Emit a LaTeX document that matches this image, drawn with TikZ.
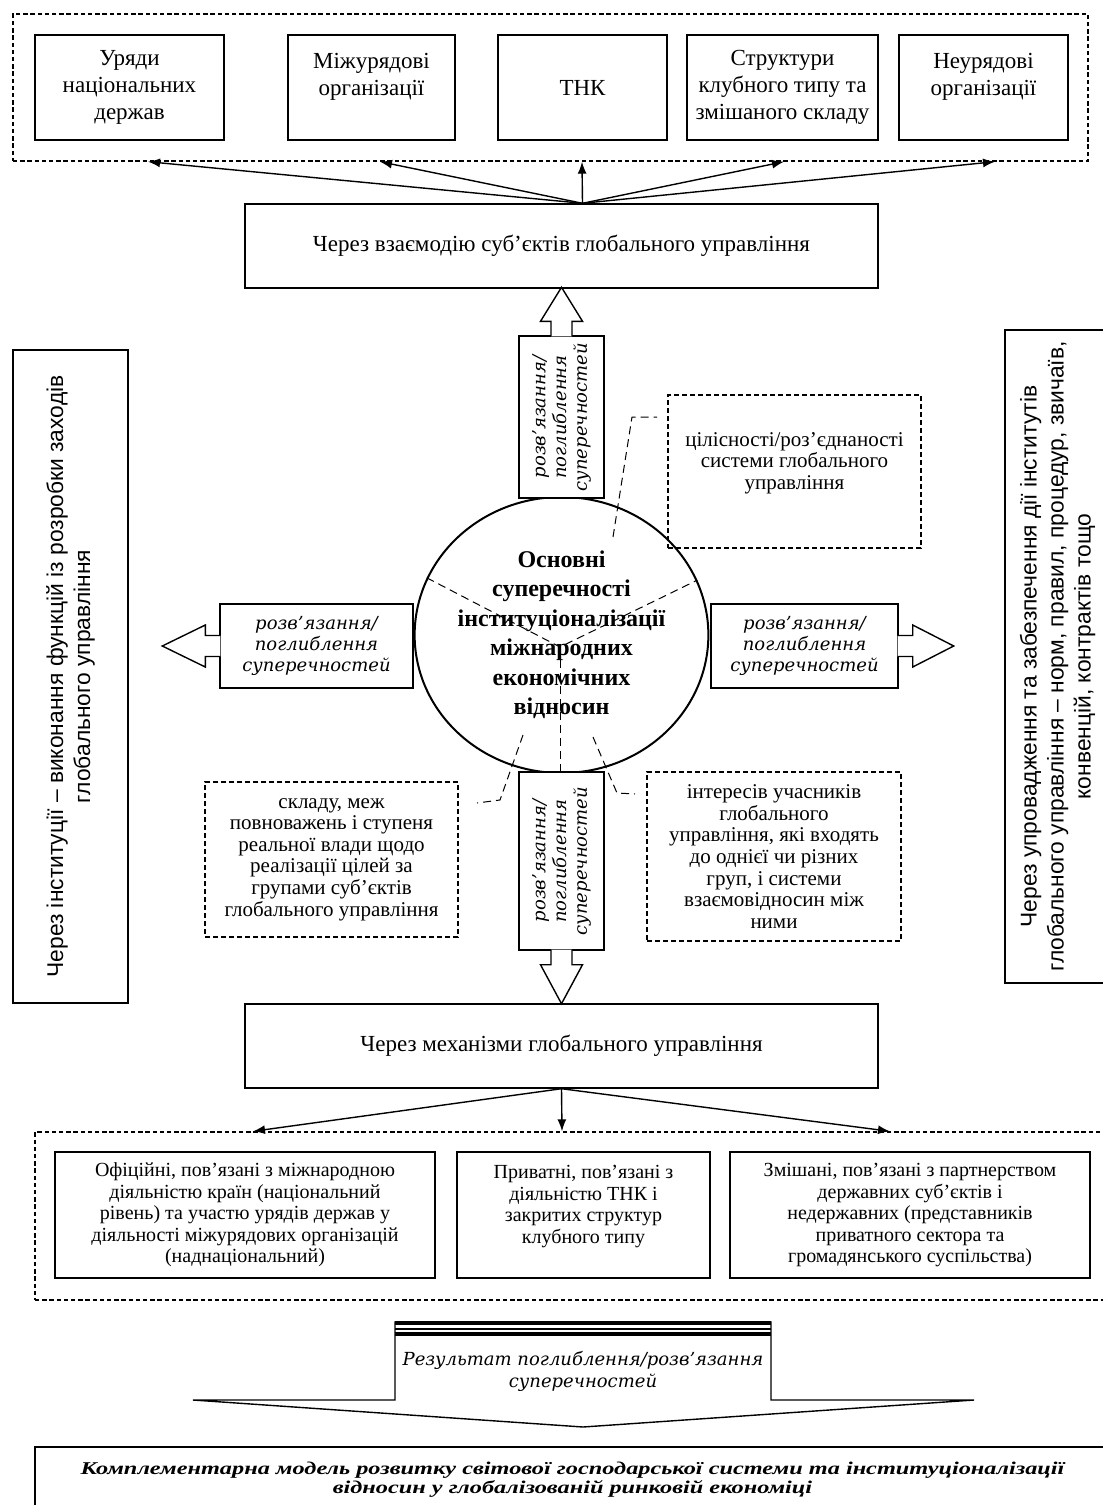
\documentclass[tikz,border=0pt]{standalone}
\usepackage{fontspec}
\setmainfont{Liberation Serif}
\newfontfamily\kursyv{DejaVu Serif}
\newfontfamily\bichnyi{Liberation Sans}
\newfontfamily\shyrokyi{Liberation Serif}[FakeStretch=1.35]
\usetikzlibrary{shapes.geometric,arrows.meta,calc,positioning}

% golovka blokovoi strilky, vistria vgoru v lokalnykh koordynatakh
\newcommand{\golovka}[1]{%
  \draw[fill=white] (-10.5,1) -- (-10.5,-14) -- (-21,-14) -- (0,-14-#1)
        -- (21,-14) -- (10.5,-14) -- (10.5,1);}

\begin{document}
\begin{tikzpicture}[x=0.5pt,y=-0.5pt,line width=0.7pt]
    \tikzstyle{blok}=[draw,rectangle,align=center,inner sep=1pt,font={\fontsize{11.5pt}{13.5pt}\selectfont}]
    \tikzstyle{blokmal}=[draw,rectangle,align=center,inner sep=1pt,font={\fontsize{10pt}{10.75pt}\selectfont}]
    \tikzstyle{ramka}=[draw,rectangle,dash pattern=on 2.2pt off 1.4pt]
    \tikzstyle{vynoska}=[draw,rectangle,align=center,inner sep=1pt,dash pattern=on 2.5pt off 1.5pt,font={\fontsize{10.5pt}{10.8pt}\selectfont}]
    \tikzstyle{strilka}=[draw,rectangle,align=center,inner sep=1pt,fill=white,font={\kursyv\itshape\fontsize{9pt}{10.4pt}\selectfont}]
    \tikzstyle{bichna}=[draw,rectangle,align=center,rotate=90,font={\bichnyi\fontsize{11.4pt}{13.5pt}\selectfont}]
    \tikzstyle{potik}=[-{Latex[length=6pt,width=4.5pt]}]
    \tikzstyle{shtrykh}=[dash pattern=on 4pt off 2.5pt,line width=0.5pt]

    \useasboundingbox (0,0) rectangle (1103,1505);

    % subiekty
    \node[ramka,minimum width=537.5pt,minimum height=73.5pt] (ramkaverh) at (550.5,87.5) {};
    \node[blok,minimum width=94.5pt,minimum height=52.5pt] (uriady) at (129.5,87.5) {Уряди\\національних\\держав};
    \node[blok,minimum width=83.5pt,minimum height=52.5pt] (mizhur) at (371.5,87.5) {Міжурядові\\організації\\~};
    \node[blok,minimum width=84.5pt,minimum height=52.5pt] (tnk) at (582.5,87.5) {ТНК};
    \node[blok,minimum width=95.5pt,minimum height=52.5pt] (klub) at (782.5,87.5) {Структури\\клубного типу та\\змішаного складу};
    \node[blok,minimum width=84.5pt,minimum height=52.5pt] (neur) at (983.5,87.5) {Неурядові\\організації\\~};

    \node[blok,minimum width=316.5pt,minimum height=42pt] (vz) at (561.5,246) {Через взаємодію суб’єктів глобального управління};
    \coordinate (dzherelo) at (tnk.south |- vz.north);
    \foreach \x in {148,380,582,784,995}
        \draw[potik] (dzherelo) -- (\x,0 |- ramkaverh.south);

    % bichni bloky
    \node[bichna,minimum width=326.5pt,minimum height=57.5pt] (livyi) at (70.5,676.5) {Через інституції – виконання функцій із розробки заходів\\глобального управління};
    \node[bichna,minimum width=326.5pt,minimum height=52.5pt] (pravyi) at (1057.5,656.5) {Через упровадження та забезпечення дії інститутів\\глобального управління – норм, правил, процедур, звичаїв,\\конвенцій, контрактів тощо};

    % kolo superechnostei
    \node[draw,ellipse,line width=1pt,minimum width=146.5pt,minimum height=138pt,inner sep=0pt,align=center,
          font={\bfseries\fontsize{12pt}{14.75pt}\selectfont}] (kolo) at (561.5,635)
          {Основні\\суперечності\\інституціоналізації\\міжнародних\\економічних\\відносин};
    \coordinate (vuzol) at ($(kolo.center)+(-1.5,12)$);
    \draw[shtrykh] (kolo.157.6) -- (vuzol) -- (kolo.22.4);
    \draw[shtrykh] (vuzol) -- (vuzol |- kolo.south);

    % blokovi strilky
    \node[strilka,rotate=90,minimum width=81pt,minimum height=42.5pt] (vhoru) at (561.5,417) {розв’язання/\\поглиблення\\суперечностей};
    \node[strilka,rotate=90,minimum width=89pt,minimum height=42.5pt] (vnyz) at (561.5,861) {розв’язання/\\поглиблення\\суперечностей};
    \node[strilka,minimum width=96.5pt,minimum height=42pt] (vlivo) at (316.5,646) {розв’язання/\\поглиблення\\суперечностей};
    \node[strilka,minimum width=93.5pt,minimum height=42pt] (vpravo) at (804.5,646) {розв’язання/\\поглиблення\\суперечностей};
    \begin{scope}[shift={(vhoru.east)}] \golovka{34} \end{scope}
    \begin{scope}[shift={(vnyz.west)},rotate=180] \golovka{39} \end{scope}
    \begin{scope}[shift={(vlivo.west)},rotate=90] \golovka{43} \end{scope}
    \begin{scope}[shift={(vpravo.east)},rotate=-90] \golovka{41} \end{scope}

    % vynosky
    \node[vynoska,minimum width=126.5pt,minimum height=76.5pt] (tsil) at (794.5,471.5) {цілісності/роз’єднаності\\системи глобального\\управління\\~};
    \node[vynoska,minimum width=126.5pt,minimum height=77.5pt] (sklad) at (331.5,859.5) {складу, меж\\повноважень і ступеня\\реальної влади щодо\\реалізації цілей за\\групами суб’єктів\\глобального управління};
    \node[vynoska,minimum width=127pt,minimum height=84.5pt] (interes) at (774,856.5) {інтересів учасників\\глобального\\управління, які входять\\до однієї чи різних\\груп, і системи\\взаємовідносин між\\ними};
    \coordinate (ktsil) at ($(kolo.center)+(51.5,-98)$);
    \coordinate (ksklad) at ($(kolo.center)+(-38.5,100)$);
    \coordinate (kinter) at ($(kolo.center)+(31.5,102)$);
    \draw[shtrykh] (ktsil) -- ++(19,-120) -- ++(25,0);
    \draw[shtrykh] (ksklad) -- ++(-23,65) -- ++(-23,3);
    \draw[shtrykh] (kinter) -- ++(24,56) -- ++(18,1);

    % mekhanizmy
    \node[blok,minimum width=316.5pt,minimum height=42pt] (mekh) at (561.5,1046) {Через механізми глобального управління};
    \node[ramka,minimum width=537.5pt,minimum height=84pt] (ramkanyz) at (572.5,1216) {};
    \foreach \x in {253,562,890}
        \draw[potik] (mekh.south) -- (\x,0 |- ramkanyz.north);
    \node[blokmal,minimum width=190pt,minimum height=63pt] (ofits) at (245,1215) {Офіційні, пов’язані з міжнародною\\діяльністю країн (національний\\рівень) та участю урядів держав у\\діяльності міжурядових організацій\\(наднаціональний)};
    \node[blokmal,minimum width=126.5pt,minimum height=63pt] (pryv) at (583.5,1215) {Приватні, пов’язані з\\діяльністю ТНК і\\закритих структур\\клубного типу\\~};
    \node[blokmal,minimum width=180pt,minimum height=63pt] (zmish) at (910,1215) {Змішані, пов’язані з партнерством\\державних суб’єктів і\\недержавних (представників\\приватного сектора та\\громадянського суспільства)};

    % rezultat
    \draw[fill=white] (395,1400) -- (395,1322) -- (771,1322) -- (771,1400) -- (974,1400)
        -- (583,1427) -- (193,1400) -- cycle;
    \draw[line width=2pt] (395,1323) -- (771,1323);
    \draw[line width=0.8pt] (395,1329) -- (771,1329);
    \draw[line width=1.6pt] (395,1334) -- (771,1334);
    \node[align=center,inner sep=0pt,font={\kursyv\itshape\fontsize{9pt}{11pt}\selectfont}] (rezultat) at (583,1371) {Результат поглиблення/розв’язання\\суперечностей};

    \node[draw,minimum width=537.5pt,minimum height=32.5pt,align=center,inner sep=1pt,
          font={\shyrokyi\bfseries\itshape\fontsize{9pt}{9.5pt}\selectfont}] (model) at (572.5,1479.5)
          {Комплементарна модель розвитку світової господарської системи та інституціоналізації\\відносин у глобалізованій ринковій економіці};
\end{tikzpicture}
\end{document}
